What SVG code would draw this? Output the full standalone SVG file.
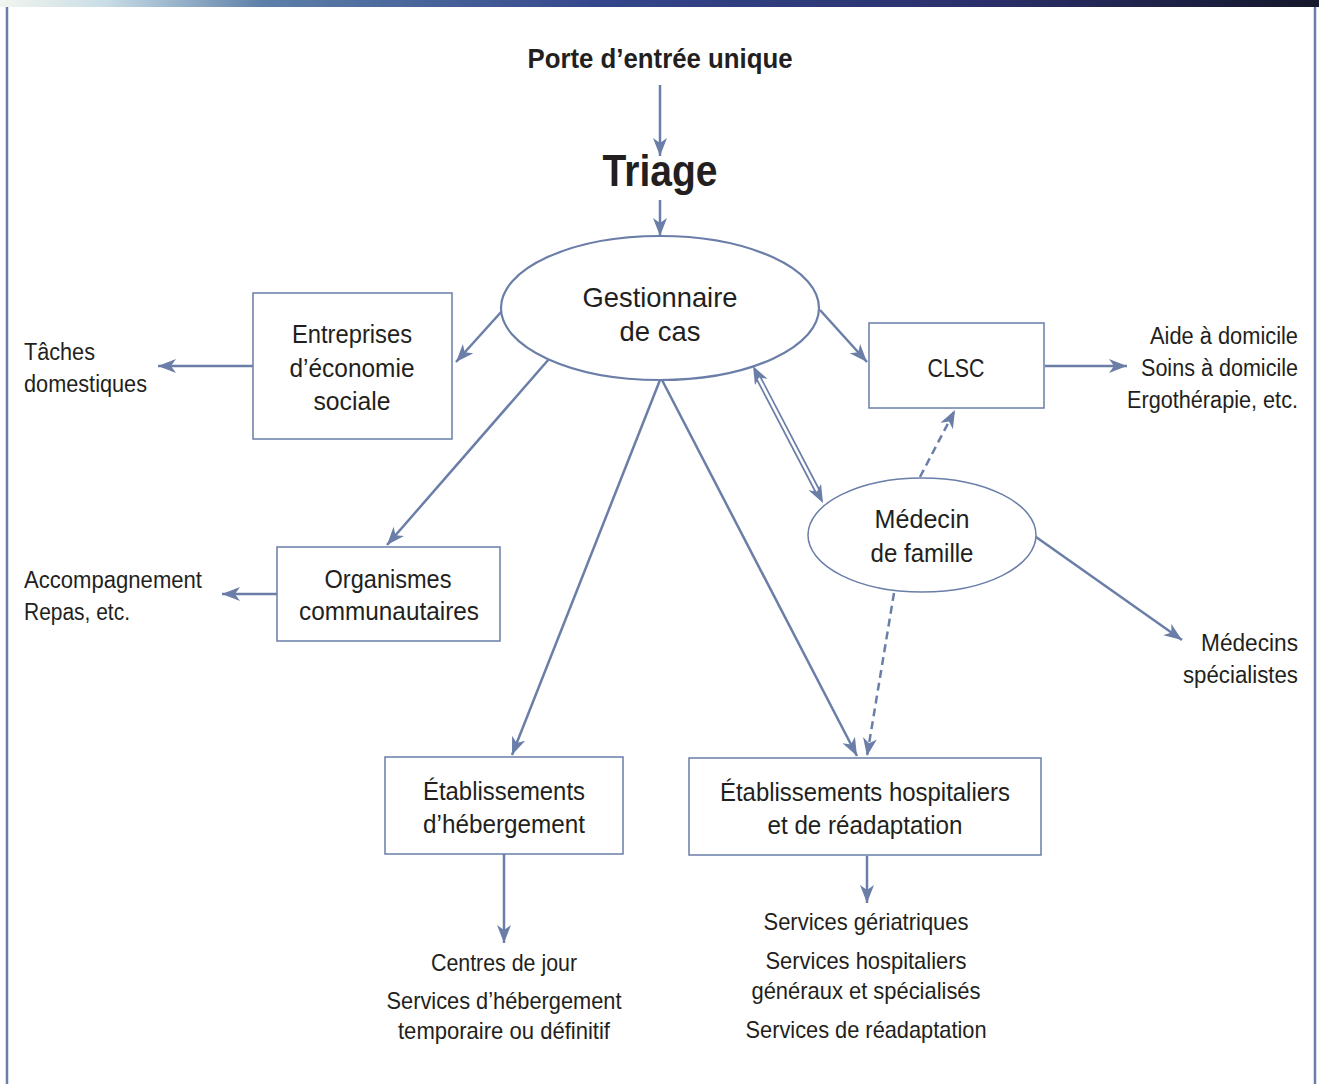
<svg xmlns="http://www.w3.org/2000/svg" width="1319" height="1084" viewBox="0 0 1319 1084">
<defs>
<linearGradient id="band" x1="0" y1="0" x2="1" y2="0">
<stop offset="0" stop-color="#f2f5ee"/>
<stop offset="0.08" stop-color="#c9dde6"/>
<stop offset="0.2" stop-color="#5d7fa8"/>
<stop offset="0.45" stop-color="#34478c"/>
<stop offset="0.75" stop-color="#2a2f6a"/>
<stop offset="1" stop-color="#15172a"/>
</linearGradient>
<marker id="ah" markerUnits="userSpaceOnUse" markerWidth="20" markerHeight="16" refX="18" refY="7" orient="auto">
<path d="M0,0 L18,7 L0,14 L5,7 z" fill="#6a7ea8"/>
</marker>
<marker id="ahs" markerUnits="userSpaceOnUse" markerWidth="20" markerHeight="16" refX="18" refY="7" orient="auto-start-reverse">
<path d="M0,0 L18,7 L0,14 L5,7 z" fill="#6a7ea8"/>
</marker>
</defs>
<style>
.t{font-family:"Liberation Sans",Arial,sans-serif;fill:#231f20;font-size:25px}
.s23{font-size:23px}
.s24{font-size:24px}
.s28{font-size:28px}
.s44{font-size:44px}
.b{font-weight:bold}
.box{fill:#fff;stroke:#6a7ea8;stroke-width:1.5}
.ell{fill:#fff;stroke:#6a7ea8}
.c{fill:none;stroke:#6a7ea8;stroke-width:2.5;marker-end:url(#ah)}
.d{stroke-dasharray:8,5}
.m{text-anchor:middle}
.r{text-anchor:end}
</style>
<rect x="0" y="0" width="1319" height="7" fill="url(#band)"/>
<line x1="7" y1="7" x2="7" y2="1084" stroke="#6a7ea8" stroke-width="2.5"/>
<line x1="1315" y1="7" x2="1315" y2="1084" stroke="#6a7ea8" stroke-width="2.5"/>

<g id="connectors">
<line class="c" x1="660" y1="85" x2="660" y2="156"/>
<line class="c" x1="660" y1="200" x2="660" y2="236"/>
<line class="c" x1="502" y1="311" x2="456" y2="362"/>
<line class="c" x1="253" y1="366" x2="158" y2="366"/>
<line class="c" x1="549" y1="359" x2="387" y2="545"/>
<line class="c" x1="277" y1="594" x2="222" y2="594"/>
<line class="c" x1="820" y1="310" x2="867" y2="362"/>
<line class="c" x1="1045" y1="366" x2="1127" y2="366"/>
<line class="c d" x1="920" y1="477" x2="955" y2="410"/>
<line stroke="#6a7ea8" stroke-width="6" x1="758" y1="377" x2="818" y2="492"/>
<line stroke="#fff" stroke-width="2.6" x1="758" y1="377" x2="818" y2="492"/>
<line class="c" style="stroke:none;marker-start:url(#ahs)" x1="753" y1="366" x2="823" y2="503"/>
<line class="c" x1="1036" y1="537" x2="1182" y2="640"/>
<line class="c d" x1="894" y1="593" x2="867" y2="756"/>
<line class="c" x1="660" y1="380" x2="512" y2="755"/>
<line class="c" x1="662" y1="380" x2="857" y2="756"/>
<line class="c" x1="504" y1="854" x2="504" y2="943"/>
<line class="c" x1="867" y1="856" x2="867" y2="903"/>
</g>

<g id="porte"><text class="t b m s28" x="660" y="68" textLength="265" lengthAdjust="spacingAndGlyphs">Porte d’entrée unique</text></g>
<g id="triage"><text class="t b m s44" x="660" y="186" textLength="115" lengthAdjust="spacingAndGlyphs">Triage</text></g>

<g id="gestionnaire">
<ellipse class="ell" stroke-width="2.2" cx="660" cy="308" rx="159" ry="72"/>
<text class="t m s28" x="660" y="307" textLength="155" lengthAdjust="spacingAndGlyphs">Gestionnaire</text>
<text class="t m s28" x="660" y="341" textLength="81" lengthAdjust="spacingAndGlyphs">de cas</text>
</g>

<g id="entreprises">
<rect class="box" x="253" y="293" width="199" height="146"/>
<text class="t m" x="352" y="343" textLength="120" lengthAdjust="spacingAndGlyphs">Entreprises</text>
<text class="t m" x="352" y="377" textLength="125" lengthAdjust="spacingAndGlyphs">d’économie</text>
<text class="t m" x="352" y="410" textLength="77" lengthAdjust="spacingAndGlyphs">sociale</text>
</g>
<g id="taches">
<text class="t s23" x="24" y="360" textLength="71" lengthAdjust="spacingAndGlyphs">Tâches</text>
<text class="t s23" x="24" y="392" textLength="123" lengthAdjust="spacingAndGlyphs">domestiques</text>
</g>

<g id="clsc">
<rect class="box" x="869" y="323" width="175" height="85"/>
<text class="t m" x="956" y="377" textLength="57" lengthAdjust="spacingAndGlyphs">CLSC</text>
</g>
<g id="aide">
<text class="t r s23" x="1298" y="344" textLength="148" lengthAdjust="spacingAndGlyphs">Aide à domicile</text>
<text class="t r s23" x="1298" y="376" textLength="157" lengthAdjust="spacingAndGlyphs">Soins à domicile</text>
<text class="t r s23" x="1298" y="408" textLength="171" lengthAdjust="spacingAndGlyphs">Ergothérapie, etc.</text>
</g>

<g id="organismes">
<rect class="box" x="277" y="547" width="223" height="94"/>
<text class="t m" x="388" y="588" textLength="127" lengthAdjust="spacingAndGlyphs">Organismes</text>
<text class="t m" x="389" y="620" textLength="180" lengthAdjust="spacingAndGlyphs">communautaires</text>
</g>
<g id="accompagnement">
<text class="t s23" x="24" y="588" textLength="178" lengthAdjust="spacingAndGlyphs">Accompagnement</text>
<text class="t s23" x="24" y="620" textLength="106" lengthAdjust="spacingAndGlyphs">Repas, etc.</text>
</g>

<g id="medecin">
<ellipse class="ell" stroke-width="1.5" cx="922" cy="535" rx="114" ry="57"/>
<text class="t m" x="922" y="528" textLength="95" lengthAdjust="spacingAndGlyphs">Médecin</text>
<text class="t m" x="922" y="562" textLength="103" lengthAdjust="spacingAndGlyphs">de famille</text>
</g>
<g id="specialistes">
<text class="t r s23" x="1298" y="651" textLength="97" lengthAdjust="spacingAndGlyphs">Médecins</text>
<text class="t r s23" x="1298" y="683" textLength="115" lengthAdjust="spacingAndGlyphs">spécialistes</text>
</g>

<g id="hebergement">
<rect class="box" x="385" y="757" width="238" height="97"/>
<text class="t m" x="504" y="800" textLength="162" lengthAdjust="spacingAndGlyphs">Établissements</text>
<text class="t m" x="504" y="833" textLength="162" lengthAdjust="spacingAndGlyphs">d’hébergement</text>
</g>
<g id="hebergement-services">
<text class="t m s24" x="504" y="971" textLength="146" lengthAdjust="spacingAndGlyphs">Centres de jour</text>
<text class="t m s24" x="504" y="1009" textLength="235" lengthAdjust="spacingAndGlyphs">Services d’hébergement</text>
<text class="t m s24" x="504" y="1039" textLength="212" lengthAdjust="spacingAndGlyphs">temporaire ou définitif</text>
</g>

<g id="hospitaliers">
<rect class="box" x="689" y="758" width="352" height="97"/>
<text class="t m" x="865" y="801" textLength="290" lengthAdjust="spacingAndGlyphs">Établissements hospitaliers</text>
<text class="t m" x="865" y="834" textLength="195" lengthAdjust="spacingAndGlyphs">et de réadaptation</text>
</g>
<g id="hospitaliers-services">
<text class="t m s24" x="866" y="930" textLength="205" lengthAdjust="spacingAndGlyphs">Services gériatriques</text>
<text class="t m s24" x="866" y="969" textLength="201" lengthAdjust="spacingAndGlyphs">Services hospitaliers</text>
<text class="t m s24" x="866" y="999" textLength="229" lengthAdjust="spacingAndGlyphs">généraux et spécialisés</text>
<text class="t m s24" x="866" y="1038" textLength="241" lengthAdjust="spacingAndGlyphs">Services de réadaptation</text>
</g>
</svg>
